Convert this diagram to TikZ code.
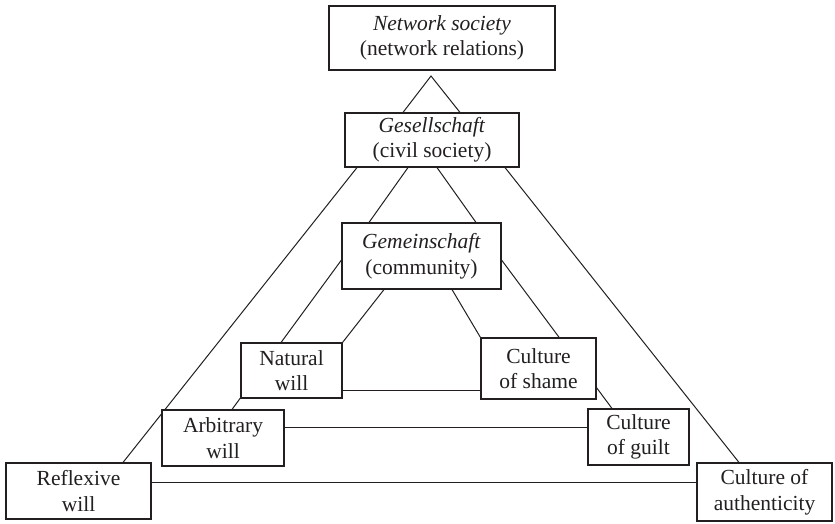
\documentclass[tikz,border=0pt]{standalone}
\usepackage{fontspec}
\setmainfont{Liberation Serif}
\usetikzlibrary{calc,backgrounds}
\definecolor{ink}{HTML}{231F20}
\begin{document}
\begin{tikzpicture}[x=1pt,y=-1pt,
  box/.style={draw=ink, line width=1.1pt, fill=white, align=center, inner sep=0pt,
    font=\fontsize{21.5}{25.5}\selectfont, text=ink},
  link/.style={draw=ink, line width=1pt}]
\useasboundingbox (0,0) rectangle (835,524);

% boxes
\node[box, minimum width=226pt, minimum height=64pt] (net)   at (442,38)    {\textit{Network society}\\(network relations)};
\node[box, minimum width=174pt, minimum height=54pt] (ges)   at (432,140)   {\textit{Gesellschaft}\\(civil society)};
\node[box, minimum width=159pt, minimum height=66pt] (gem)   at (421.5,256) {\textit{Gemeinschaft}\\(community)};
\node[box, minimum width=101pt, minimum height=55pt] (nat)   at (291.5,370.5) {Natural\\will};
\node[box, minimum width=115pt, minimum height=61pt] (shame) at (538.5,368.5) {Culture\\of shame};
\node[box, minimum width=122pt, minimum height=56pt] (arb)   at (223,438)   {Arbitrary\\will};
\node[box, minimum width=101pt, minimum height=56pt] (guilt) at (638.5,437) {Culture\\of guilt};
\node[box, minimum width=145pt, minimum height=56pt] (refl)  at (78.5,491)  {Reflexive\\will};
\node[box, minimum width=135pt, minimum height=58pt] (auth)  at (764.5,492) {Culture of\\authenticity};

\coordinate (apex) at (431,76);

\begin{pgfonlayer}{background}
  % small roof under the network box
  \draw[link] ($(ges.north)+(-29,0)$) -- (apex) -- ($(ges.north)+(28,0)$);
  % outer triangle
  \draw[link] ($(ges.south)+(-75,0)$) -- ($(refl.north)+(44.5,0)$);
  \draw[link] ($(ges.south)+(73,0)$) -- ($(auth.north)+(-25.5,0)$);
  \draw[link] ($(refl.east)+(0,-9)$) -- ($(auth.west)+(0,-10)$);
  % Gesellschaft to Gemeinschaft
  \draw[link] ($(ges.south)+(-24,0)$) -- ($(gem.north)+(-52.5,0)$);
  \draw[link] ($(ges.south)+(5,0)$) -- ($(gem.north)+(54.5,0)$);
  % middle triangle
  \draw[link] ($(gem.west)+(0,4)$) -- ($(arb.north)+(9,0)$);
  \draw[link] ($(gem.east)+(0,4)$) -- ($(guilt.north)+(-26.5,0)$);
  \draw[link] ($(arb.east)+(0,-11)$) -- ($(guilt.west)+(0,-10)$);
  % inner triangle
  \draw[link] ($(gem.south)+(-37.5,0)$) -- (nat.north east);
  \draw[link] ($(gem.south)+(30.5,0)$) -- (shame.north west);
  \draw[link] ($(nat.east)+(0,19.5)$) -- ($(shame.west)+(0,21.5)$);
\end{pgfonlayer}
\end{tikzpicture}
\end{document}
